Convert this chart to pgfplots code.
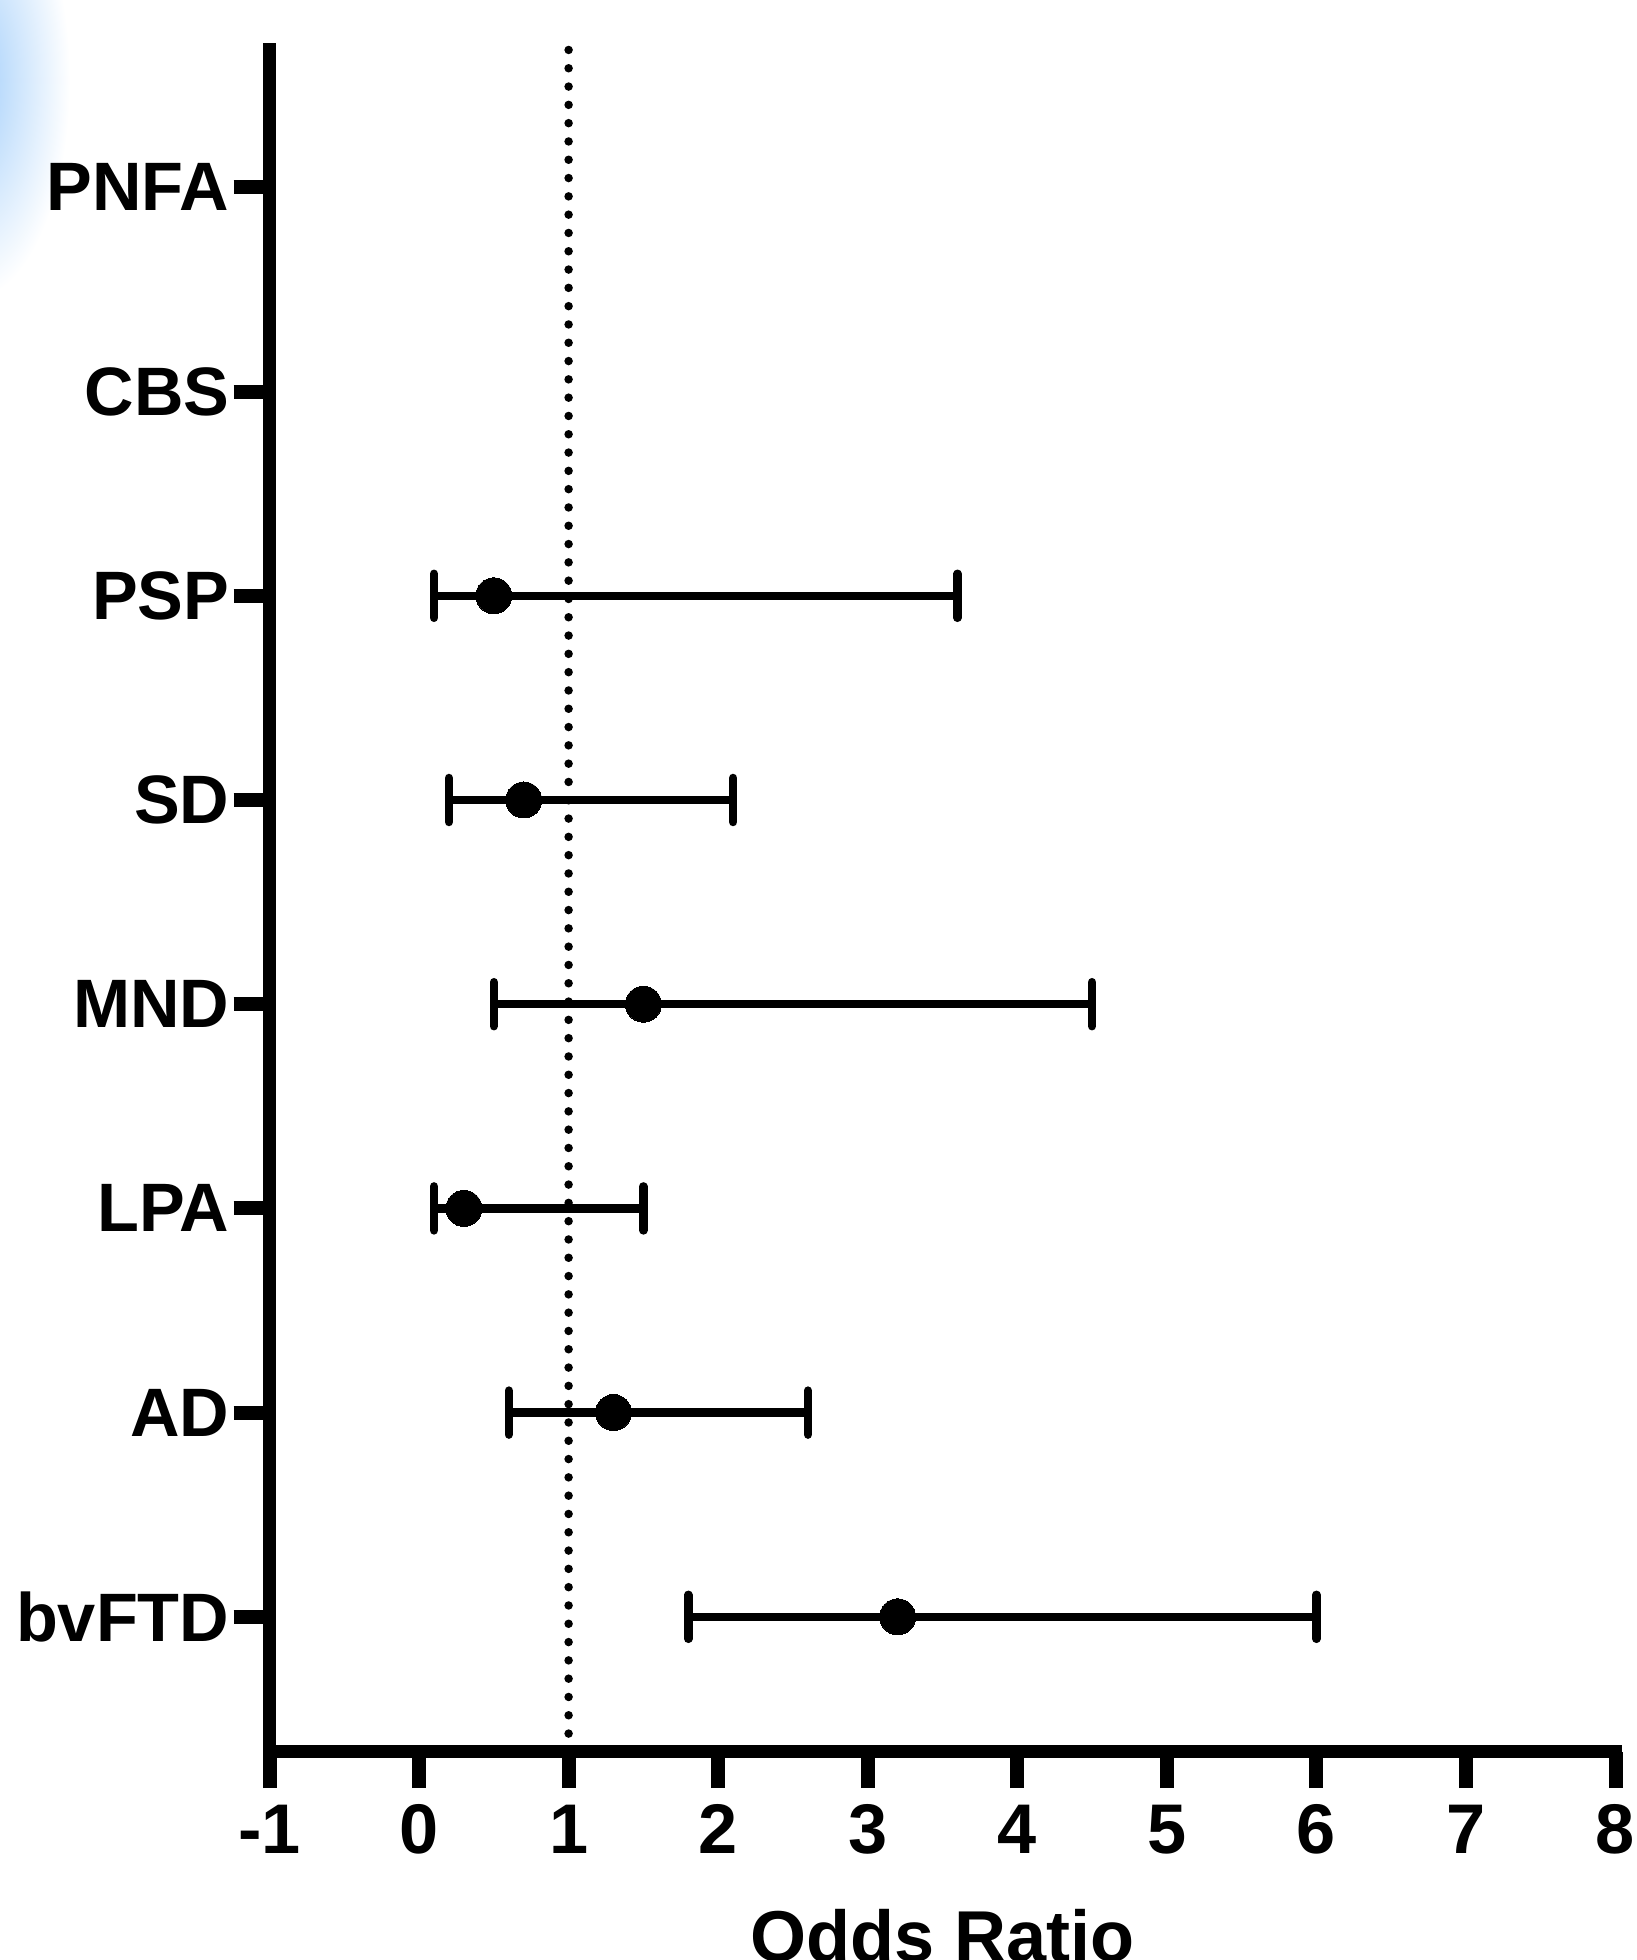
\documentclass[border=0pt]{standalone}
\usepackage{fontspec}
\setmainfont{Liberation Sans}
\usepackage{pgfplots}
\usepackage{pgfplotstable}
\pgfplotsset{compat=1.18}
\pgfplotstableread{
pos or em ep
6 0.5 0.4 3.1
5 0.7 0.5 1.4
4 1.5 1.0 3.0
3 0.3 0.2 1.2
2 1.3 0.7 1.3
1 3.2 1.4 2.8
}\datatable
\definecolor{glow}{RGB}{160,205,250}
\begin{document}
\begin{tikzpicture}
\useasboundingbox (0,0) rectangle (163.6mm,196mm);
\begin{scope}
\clip (0,0) rectangle (163.6mm,196mm);
\shade[inner color=glow, outer color=white] (-3mm,188mm) ellipse (10mm and 22mm);
\end{scope}
\begin{axis}[
 at={(26.95mm,20.8mm)}, anchor=south west,
 scale only axis, width=134.6mm, height=170.2mm,
 xmin=-1, xmax=8, ymin=0.338, ymax=8.673,
 clip=false,
 axis x line=bottom, axis y line=left,
 axis line style={-, line width=1.3mm, line cap=rect, black},
 xtick={-1,0,...,8}, xticklabels={-1,0,1,2,3,4,5,6,7,8},
 ytick={1,...,8}, yticklabels={bvFTD,AD,LPA,MND,SD,PSP,CBS,PNFA},
 tick align=outside, major tick length=3.6mm,
 every major tick/.append style={line width=1.4mm, black},
 xticklabel style={font=\fontsize{20}{22}\selectfont\bfseries, anchor=base, inner sep=0pt, yshift=-6.5mm},
 yticklabel style={font=\fontsize{19.5}{22}\selectfont\bfseries, anchor=east, inner sep=0pt, xshift=-0.35mm},
 xlabel={Odds Ratio},
 xlabel style={at={(axis description cs:0.5,0)}, anchor=base, inner sep=0pt, yshift=-20.9mm, font=\fontsize{20.5}{24}\selectfont\bfseries},
]
\addplot[black, line width=0.85mm, line cap=round, dash pattern=on 0pt off 1.83mm] coordinates {(1,8.673) (1,0.338)};
\addplot[black, only marks, mark=*, mark size=1.8mm, mark options={fill=black, draw=black, line width=0pt},
  error bars/.cd, x dir=both, x explicit,
  error bar style={line width=0.85mm, black},
  error mark options={rotate=90, line width=0.85mm, mark size=2.2mm, line cap=round, black}]
  table[x=or, y=pos, x error minus=em, x error plus=ep] {\datatable};
\end{axis}
\end{tikzpicture}
\end{document}
